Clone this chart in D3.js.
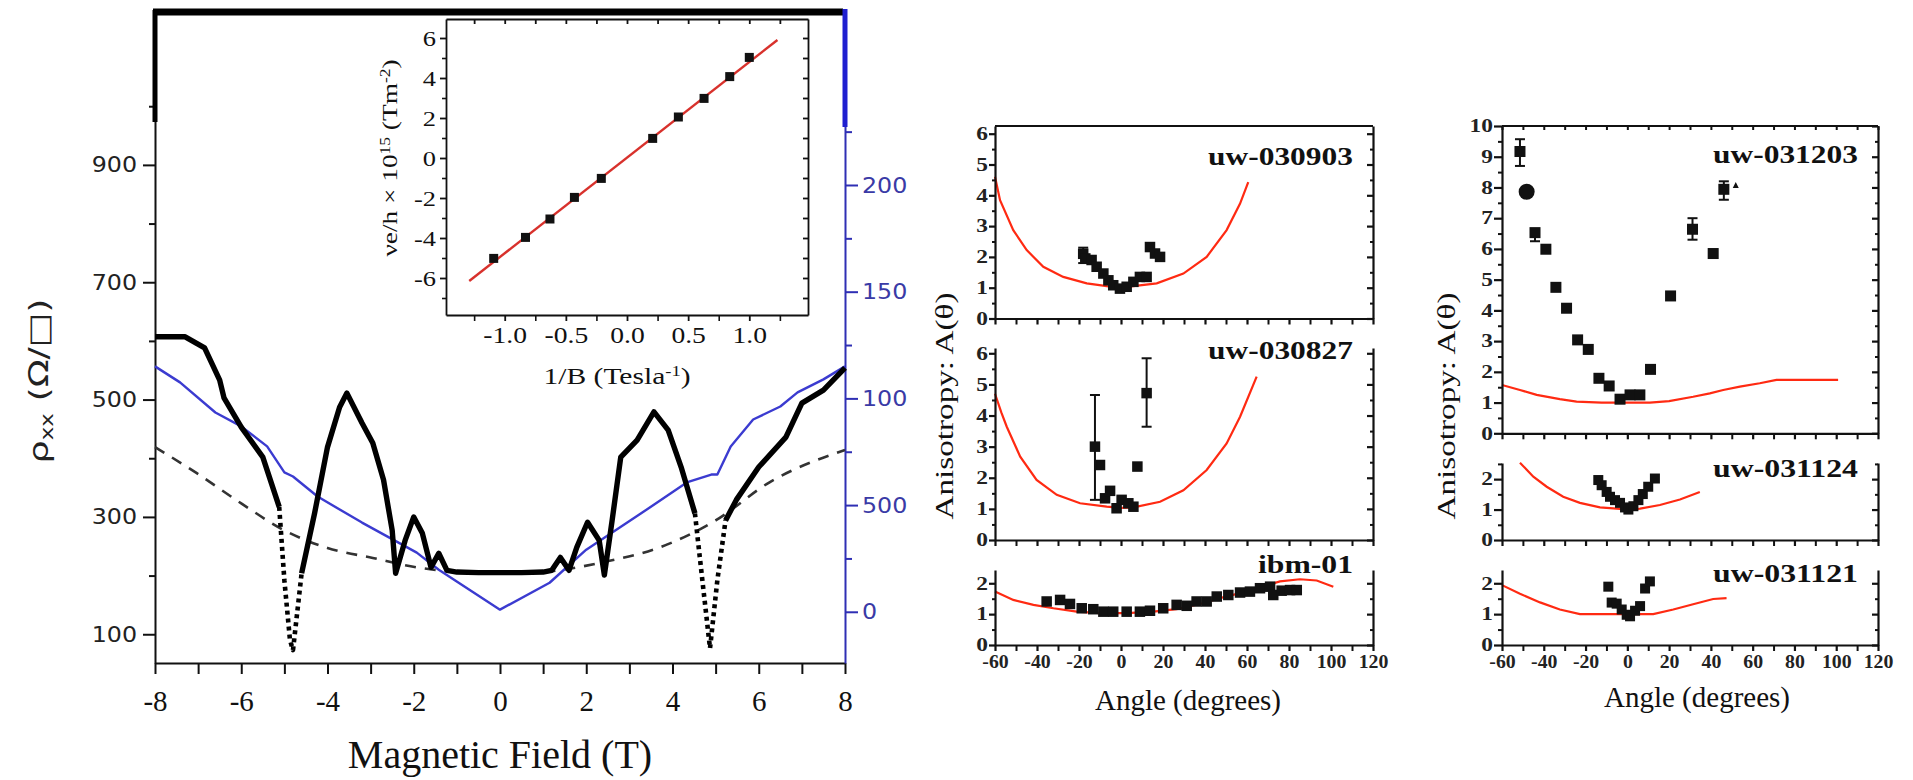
<!DOCTYPE html>
<html>
<head>
<meta charset="utf-8">
<script src="https://cdn.jsdelivr.net/npm/d3@7"></script>
<style>
  body { margin: 0; background: #fff; }
  svg { display: block; }
  text { font-family: "Liberation Serif", "Times New Roman", serif; }
</style>
</head>
<body>
<script>
// ---------------- main panel: rho_xx and companion trace vs field ----------------
const fieldTicks = [-8, -6, -4, -2, 0, 2, 4, 6, 8];
const fieldMinor = [-7, -5, -3, -1, 1, 3, 5, 7];
const rhoTicks = [100, 300, 500, 700, 900];
const rhoMinor = [200, 400, 600, 800, 1000];
const blueTicks = [0, 50, 100, 150, 200];
const blueTickLabels = ["0", "500", "100", "150", "200"];
const blueMinor = [25, 75, 125, 175, 225];

const rhoB = [-8, -7.3, -6.85, -6.5, -6.4, -6.0, -5.5, -5.12, -5.0, -4.87,
  -4.8, -4.6, -4.3, -4.0, -3.72, -3.55, -3.2, -2.95, -2.7, -2.5,
  -2.42, -2.2, -2.0, -1.8, -1.6, -1.42, -1.23, -1.0, -0.5, 0,
  0.5, 1.0, 1.2, 1.4, 1.6, 1.78, 2.03, 2.3, 2.42, 2.6,
  2.8, 3.18, 3.57, 3.9, 4.2, 4.52, 4.7, 4.87, 5.04, 5.23,
  5.48, 6.0, 6.63, 7.0, 7.5, 8.0];
const rhoVal = [607, 607, 588, 533, 503, 453, 402, 317, 192, 90,
  73, 204, 306, 419, 487, 511, 460, 426, 363, 277,
  204, 260, 300, 272, 214, 238, 209, 206, 205, 205,
  205, 206, 209, 231, 209, 248, 291, 260, 201, 294,
  402, 431, 479, 448, 385, 306, 187, 76, 192, 294,
  329, 385, 436, 494, 516, 554];
// field windows where the sweep is sparse (drawn dotted)
const rhoSparse = [[-5.15, -4.62], [4.55, 5.2]];

const blueB = [-8, -7.42, -6.6, -6.0, -5.4, -5.0, -4.8, -4.23, -3.2, -1.93, -1.42, 0,
  1.15, 2.0, 3.3, 4.33, 4.9, 5.04, 5.35, 5.87, 6.5, 6.9, 7.5, 8];
const blueVal = [115, 107.5, 93.4, 86.9, 77.5, 65.3, 63.4, 54, 41.8, 27.7, 19.7, 1,
  13.6, 29.1, 46.5, 60.6, 64.3, 64.3, 77.5, 90.1, 96.2, 102.8, 108.9, 115];

const fitB = [-8, -7.04, -6, -5, -4, -2.95, -1.93, -1, 0, 1, 2.4, 3.7, 5, 6.25, 8];
const fitRho = [419, 375, 323, 277, 247, 230, 214, 206, 203, 206, 223, 248, 294, 359, 414];

// ---------------- inset: nu e/h vs 1/B ----------------
const invB = [-1.09, -0.83, -0.63, -0.43, -0.21, 0.21, 0.42, 0.63, 0.84, 1.0];
const nuEh = [-5.02, -3.97, -3.05, -1.97, -1.02, 0.98, 2.05, 2.98, 4.07, 5.03];
const lineInvB = [-1.29, 1.23];
const lineNuEh = [-6.15, 5.9];
const invBTicks = [-1.0, -0.5, 0, 0.5, 1.0];
const invBMinor = [-1.25, -0.75, -0.25, 0.25, 0.75, 1.25];
const nuEhTicks = [-6, -4, -2, 0, 2, 4, 6];
const nuEhMinor = [-7, -5, -3, -1, 1, 3, 5];

// ---------------- anisotropy panels ----------------
const angleTicks = [-60, -40, -20, 0, 20, 40, 60, 80, 100, 120];

const s030903Angle = [-18, -17, -14, -11.6, -8.4, -6, -3.7, -0.5, 2.7, 5.9, 9, 12.2, 13.8, 16.2, 18.6];
const s030903A = [2.1, 1.95, 1.9, 1.68, 1.46, 1.24, 1.08, 0.97, 1.03, 1.19, 1.35, 1.35, 2.32, 2.11, 2.0];
const s030903ErrAngle = [-18];
const s030903ErrLo = [1.8];
const s030903ErrHi = [2.3];
const s030903FitAngle = [-60, -57.6, -51.3, -44.9, -37, -27.5, -16.3, -6.8, 0, 5.9, 17, 29.7, 40.8, 50.3, 56.7, 60.6];
const s030903FitA = [4.6, 3.84, 2.87, 2.22, 1.68, 1.35, 1.14, 1.05, 1.0, 1.05, 1.14, 1.46, 2.0, 2.87, 3.73, 4.43];

const s030827Angle = [-12.4, -10, -7.6, -5.2, -2.1, 0.3, 3.5, 5.9, 7.8, 12.2];
const s030827A = [3.0, 2.41, 1.34, 1.58, 1.02, 1.29, 1.18, 1.07, 2.36, 4.72];
const s030827ErrAngle = [-12.4, 12.2];
const s030827ErrLo = [1.29, 3.64];
const s030827ErrHi = [4.66, 5.84];
const s030827FitAngle = [-60, -57, -54.4, -48, -40.2, -30.6, -19.5, -6.8, 0, 6, 18.6, 29.7, 40.8, 50.3, 56.7, 64.6];
const s030827FitA = [4.7, 4.1, 3.64, 2.68, 1.93, 1.45, 1.18, 1.07, 1.03, 1.05, 1.23, 1.6, 2.25, 3.1, 3.96, 5.25];

const ibm01Angle = [-35.4, -29, -24.3, -18.7, -13.2, -8.4, -3.7, 2.7, 9, 13.8, 20.1, 26.5, 31.3,
  36, 40.8, 45.6, 51.1, 56.7, 61.4, 66.2, 71, 72.5, 76.5, 80.5, 83.7];
const ibm01A = [1.41, 1.46, 1.33, 1.19, 1.16, 1.08, 1.08, 1.08, 1.08, 1.11, 1.19, 1.3, 1.27,
  1.41, 1.41, 1.57, 1.62, 1.7, 1.73, 1.84, 1.89, 1.62, 1.76, 1.78, 1.78];
const ibm01FitAngle = [-60, -51.3, -41.7, -32.2, -21.1, -10, 2.7, 15.4, 26.5, 37.6, 47.1, 56.7, 66.2, 75.7, 85.2, 93.2, 101.1];
const ibm01FitA = [1.73, 1.46, 1.3, 1.19, 1.08, 1.03, 1.03, 1.08, 1.16, 1.33, 1.52, 1.68, 1.87, 2.06, 2.13, 2.09, 1.89];

const s031203Angle = [-51.4, -48.2, -44.2, -39, -34.2, -29.1, -23.8, -18.7, -13.6, -8.7, -3.5, 1.3, 6.0,
  11.1, 20.7, 31.2, 41.1, 46.2, 51.9];
const s031203A = [9.17, 7.86, 6.53, 5.99, 4.75, 4.07, 3.04, 2.73, 1.79, 1.54, 1.11, 1.25, 1.25,
  2.08, 4.47, 6.64, 5.85, 7.94, 8.08];
const s031203Marker = ["s", "o", "s", "s", "s", "s", "s", "s", "s", "s", "s", "s", "s",
  "s", "s", "s", "s", "s", "t"];
const s031203ErrAngle = [-51.4, -44.2, 31.2, 46.2];
const s031203ErrLo = [8.7, 6.25, 6.3, 7.6];
const s031203ErrHi = [9.57, 6.65, 7.0, 8.2];
const s031203FitAngle = [-60, -51.4, -43.4, -32.3, -24.3, -12.3, 0, 10.8, 20, 31.5, 39.5, 45.9, 53.9, 63.4, 71.4, 80, 100.9];
const s031203FitA = [1.57, 1.41, 1.25, 1.11, 1.03, 1.0, 1.0, 1.0, 1.05, 1.19, 1.3, 1.41, 1.52, 1.63, 1.74, 1.74, 1.74];

const s031124Angle = [-13.9, -12.3, -9.9, -8.3, -5.9, -3.5, -1.1, 0.5, 2.9, 5.3, 7.4, 10.0, 13.2];
const s031124A = [1.97, 1.8, 1.58, 1.42, 1.31, 1.22, 1.07, 1.0, 1.11, 1.31, 1.51, 1.75, 2.02];
const s031124FitAngle = [-51.4, -45, -38.6, -30.7, -22.7, -13.1, -3.5, 0, 6.1, 15.6, 25.2, 34.7];
const s031124FitA = [2.54, 2.08, 1.75, 1.42, 1.22, 1.07, 1.02, 1.0, 1.03, 1.15, 1.33, 1.58];

const s031121Angle = [-9.1, -7.5, -5.1, -2.7, -0.3, 1.3, 3.7, 6.1, 8.5, 10.8];
const s031121A = [1.89, 1.375, 1.34, 1.15, 0.98, 0.93, 1.11, 1.26, 1.83, 2.06];
const s031121FitAngle = [-60, -51.4, -41.8, -32.3, -22.7, -13.1, 0, 12.4, 22, 31.5, 41.1, 47.5];
const s031121FitA = [1.94, 1.66, 1.38, 1.15, 1.0, 1.0, 1.0, 1.0, 1.15, 1.32, 1.49, 1.52];

// ---------------------------------------------------------------------------
const svg = d3.select("body").append("svg").attr("width", 1913).attr("height", 780);

const zip = (a, b) => a.map((v, i) => [v, b[i]]);
const str = d => String(d);

// widen glyphs horizontally around a chosen origin
function widen(sel, k, origin) {
  sel.style("transform-box", "fill-box")
     .style("transform-origin", origin)
     .style("transform", `scaleX(${k})`);
}

// ----------------------------- main panel -----------------------------
const fx = d3.scaleLinear().domain([-8, 8]).range([155, 845]);
const fyL = d3.scaleLinear().domain([51, 1164]).range([663, 10]);
const fyR = d3.scaleLinear().domain([-24, 282]).range([663, 10]);

const main = svg.append("g");

function styleAxis(g, color, width) {
  g.select(".domain").attr("stroke", color).attr("stroke-width", width);
  g.selectAll(".tick line").attr("stroke", color).attr("stroke-width", width);
}

// bottom axis
const gxb = main.append("g").attr("transform", "translate(0,663)")
  .call(d3.axisBottom(fx).tickValues(fieldTicks).tickSize(11).tickSizeOuter(0).tickFormat(str));
styleAxis(gxb, "#111", 2);
gxb.selectAll("text").attr("y", 27).attr("fill", "#111")
  .style("font-size", "29px").style("font-family", "'Liberation Serif', serif");
const gxm = main.append("g").attr("transform", "translate(0,663)")
  .call(d3.axisBottom(fx).tickValues(fieldMinor).tickSize(11).tickFormat(""));
gxm.select(".domain").remove();
styleAxis(gxm, "#111", 2);

// left axis
const gyl = main.append("g").attr("transform", "translate(155,0)")
  .call(d3.axisLeft(fyL).tickValues(rhoTicks).tickSize(12).tickPadding(6).tickSizeOuter(0).tickFormat(str));
styleAxis(gyl, "#111", 2);
gyl.selectAll("text").attr("fill", "#222")
  .style("font-size", "22px").style("font-family", "'DejaVu Sans', sans-serif");
widen(gyl.selectAll("text"), 1.08, "right center");
const gylm = main.append("g").attr("transform", "translate(155,0)")
  .call(d3.axisLeft(fyL).tickValues(rhoMinor).tickSize(6).tickFormat(""));
gylm.select(".domain").remove();
styleAxis(gylm, "#111", 2);

// right (blue) axis
const blue = "#2f2fb4";
const gyr = main.append("g").attr("transform", "translate(845,0)")
  .call(d3.axisRight(fyR).tickValues(blueTicks).tickSize(13).tickPadding(4).tickSizeOuter(0)
    .tickFormat((d, i) => blueTickLabels[i]));
styleAxis(gyr, blue, 2);
gyr.selectAll("text").attr("fill", "#3a3aa6")
  .style("font-size", "22px").style("font-family", "'DejaVu Sans', sans-serif");
widen(gyr.selectAll("text"), 1.08, "left center");
const gyrm = main.append("g").attr("transform", "translate(845,0)")
  .call(d3.axisRight(fyR).tickValues(blueMinor).tickSize(7).tickFormat(""));
gyrm.select(".domain").remove();
styleAxis(gyrm, blue, 2);

// heavy frame segments along the top corners
main.append("line").attr("x1", 153).attr("x2", 843).attr("y1", 12).attr("y2", 12)
  .attr("stroke", "#000").attr("stroke-width", 7);
main.append("line").attr("x1", 155).attr("x2", 155).attr("y1", 10).attr("y2", 122)
  .attr("stroke", "#000").attr("stroke-width", 5);
main.append("line").attr("x1", 845).attr("x2", 845).attr("y1", 9).attr("y2", 127)
  .attr("stroke", "#1f1fd0").attr("stroke-width", 5);

// dashed reference curve
main.append("path").datum(zip(fitB, fitRho))
  .attr("d", d3.line().x(d => fx(d[0])).y(d => fyL(d[1])).curve(d3.curveMonotoneX))
  .attr("fill", "none").attr("stroke", "#333").attr("stroke-width", 2.6)
  .attr("stroke-dasharray", "11,9");

// blue trace
main.append("path").datum(zip(blueB, blueVal))
  .attr("d", d3.line().x(d => fx(d[0])).y(d => fyR(d[1])))
  .attr("fill", "none").attr("stroke", "#3b3bd0").attr("stroke-width", 2.4)
  .attr("stroke-linejoin", "round");

// black rho_xx trace, solid where dense, dotted where sparse
const rhoPts = zip(rhoB, rhoVal);
const runs = [];
for (let i = 0; i < rhoPts.length - 1; i++) {
  const mid = (rhoPts[i][0] + rhoPts[i + 1][0]) / 2;
  const sparse = rhoSparse.some(([a, b]) => mid > a && mid < b);
  if (!runs.length || runs[runs.length - 1].sparse !== sparse) runs.push({ sparse, pts: [rhoPts[i]] });
  runs[runs.length - 1].pts.push(rhoPts[i + 1]);
}
const rhoLine = d3.line().x(d => fx(d[0])).y(d => fyL(d[1]));
runs.forEach(r => {
  main.append("path").datum(r.pts).attr("d", rhoLine)
    .attr("fill", "none").attr("stroke", "#000")
    .attr("stroke-width", r.sparse ? 4.6 : 5.4)
    .attr("stroke-linejoin", "round")
    .attr("stroke-dasharray", r.sparse ? "4,4" : null);
});

// axis titles
main.append("text").attr("x", 500).attr("y", 768).attr("text-anchor", "middle")
  .style("font-size", "40px").attr("fill", "#111").text("Magnetic Field (T)");
const rt = main.append("text").attr("transform", "translate(48,381) rotate(-90)")
  .attr("text-anchor", "middle").attr("fill", "#222")
  .style("font-family", "'DejaVu Sans', sans-serif").style("font-size", "27px")
  .attr("textLength", 165).attr("lengthAdjust", "spacingAndGlyphs");
rt.append("tspan").text("ρ");
rt.append("tspan").attr("baseline-shift", "-30%").style("font-size", "17px").text("xx");
rt.append("tspan").text(" (Ω/□)");

// ----------------------------- inset -----------------------------
const ix = d3.scaleLinear().domain([-1.48, 1.48]).range([446, 808]);
const iy = d3.scaleLinear().domain([-7.85, 6.95]).range([315, 19]);
const ins = svg.append("g");
ins.append("rect").attr("x", 446).attr("y", 19).attr("width", 362).attr("height", 296)
  .attr("fill", "#fff");

const il = ins.append("g").attr("transform", "translate(446,0)")
  .call(d3.axisLeft(iy).tickValues(nuEhTicks).tickSize(6).tickPadding(4).tickSizeOuter(0).tickFormat(str));
styleAxis(il, "#111", 1.8);
il.selectAll("text").attr("fill", "#111").style("font-size", "22px");
widen(il.selectAll("text"), 1.2, "right center");
const ilm = ins.append("g").attr("transform", "translate(446,0)")
  .call(d3.axisLeft(iy).tickValues(nuEhMinor).tickSize(4).tickFormat(""));
ilm.select(".domain").remove();
styleAxis(ilm, "#111", 1.6);

const ir = ins.append("g").attr("transform", "translate(808,0)")
  .call(d3.axisLeft(iy).tickValues(nuEhTicks.concat(nuEhMinor)).tickSize(5).tickSizeOuter(0).tickFormat(""));
styleAxis(ir, "#111", 1.8);

const ib = ins.append("g").attr("transform", "translate(0,315)")
  .call(d3.axisBottom(ix).tickValues(invBTicks).tickSize(6).tickPadding(6).tickSizeOuter(0).tickFormat(d => d.toFixed(1)));
styleAxis(ib, "#111", 1.8);
ib.selectAll("text").attr("fill", "#111").style("font-size", "23px");
widen(ib.selectAll("text"), 1.2, "center");
const ibm = ins.append("g").attr("transform", "translate(0,315)")
  .call(d3.axisBottom(ix).tickValues(invBMinor).tickSize(6).tickFormat(""));
ibm.select(".domain").remove();
styleAxis(ibm, "#111", 1.6);

const it = ins.append("g").attr("transform", "translate(0,19)")
  .call(d3.axisBottom(ix).tickValues(invBTicks.concat(invBMinor)).tickSize(5).tickSizeOuter(0).tickFormat(""));
styleAxis(it, "#111", 1.8);

ins.append("path").datum(zip(lineInvB, lineNuEh))
  .attr("d", d3.line().x(d => ix(d[0])).y(d => iy(d[1])))
  .attr("stroke", "#d8312c").attr("stroke-width", 2.4).attr("fill", "none");
ins.selectAll("rect.pt").data(zip(invB, nuEh)).join("rect").attr("class", "pt")
  .attr("x", d => ix(d[0]) - 4.5).attr("y", d => iy(d[1]) - 4.5)
  .attr("width", 9).attr("height", 9).attr("fill", "#111");

const iyt = ins.append("text").attr("transform", "translate(397,158) rotate(-90)")
  .attr("text-anchor", "middle").attr("fill", "#111").style("font-size", "22px")
  .attr("textLength", 197).attr("lengthAdjust", "spacingAndGlyphs");
iyt.append("tspan").text("νe/h × 10");
iyt.append("tspan").attr("baseline-shift", "super").style("font-size", "14px").text("15");
iyt.append("tspan").text(" (Tm");
iyt.append("tspan").attr("baseline-shift", "super").style("font-size", "14px").text("-2");
iyt.append("tspan").text(")");

const ixt = ins.append("text").attr("x", 617).attr("y", 384).attr("text-anchor", "middle")
  .attr("fill", "#111").style("font-size", "24px")
  .attr("textLength", 147).attr("lengthAdjust", "spacingAndGlyphs");
ixt.append("tspan").text("1/B (Tesla");
ixt.append("tspan").attr("baseline-shift", "super").style("font-size", "15px").text("-1");
ixt.append("tspan").text(")");

// ----------------------------- anisotropy panels -----------------------------
const panels = [
  { name: "uw-030903", x0: 995, x1: 1373, y0: 126, y1: 318.5, yMax: 6.25, box: true, tick: 6,
    angle: s030903Angle, val: s030903A, errAngle: s030903ErrAngle, errLo: s030903ErrLo, errHi: s030903ErrHi,
    fitAngle: s030903FitAngle, fitVal: s030903FitA, size: 10.5, labelY: 165, labelLen: 145 },
  { name: "uw-030827", x0: 995, x1: 1373, y0: 348, y1: 540, yMax: 6.17, tick: 6,
    angle: s030827Angle, val: s030827A, errAngle: s030827ErrAngle, errLo: s030827ErrLo, errHi: s030827ErrHi,
    fitAngle: s030827FitAngle, fitVal: s030827FitA, size: 10.5, labelY: 359, labelLen: 145 },
  { name: "ibm-01", x0: 995, x1: 1373, y0: 570, y1: 645, yMax: 2.43, tick: 6, xLabels: true,
    angle: ibm01Angle, val: ibm01A, fitAngle: ibm01FitAngle, fitVal: ibm01FitA, size: 10.5,
    labelY: 573, labelLen: 95 },
  { name: "uw-031203", x0: 1502, x1: 1878, y0: 126, y1: 433.3, yMax: 10, box: true, topTicks: true, tick: 8,
    angle: s031203Angle, val: s031203A, marker: s031203Marker,
    errAngle: s031203ErrAngle, errLo: s031203ErrLo, errHi: s031203ErrHi,
    fitAngle: s031203FitAngle, fitVal: s031203FitA, size: 11, labelY: 163, labelLen: 145 },
  { name: "uw-031124", x0: 1502, x1: 1878, y0: 463, y1: 540, yMax: 2.53, tick: 8,
    angle: s031124Angle, val: s031124A, fitAngle: s031124FitAngle, fitVal: s031124FitA, size: 10,
    labelY: 477, labelLen: 145 },
  { name: "uw-031121", x0: 1502, x1: 1878, y0: 570, y1: 645, yMax: 2.43, tick: 8, xLabels: true,
    angle: s031121Angle, val: s031121A, fitAngle: s031121FitAngle, fitVal: s031121FitA, size: 10,
    labelY: 582, labelLen: 145 }
];

const angleMinor = d3.range(-50, 120, 20);
panels.forEach(p => {
  const g = svg.append("g");
  const x = d3.scaleLinear().domain([-60, 120]).range([p.x0, p.x1]);
  const y = d3.scaleLinear().domain([0, p.yMax]).range([p.y1, p.y0]);
  const major = d3.range(0, Math.floor(p.yMax) + 1);
  const minor = d3.range(0.5, p.yMax, 1);

  // fitted curve
  g.append("path").datum(zip(p.fitAngle, p.fitVal))
    .attr("d", d3.line().x(d => x(d[0])).y(d => y(d[1])))
    .attr("fill", "none").attr("stroke", "#ff2a12").attr("stroke-width", 2.2);

  // error bars
  if (p.errAngle) {
    p.errAngle.forEach((a, i) => {
      const cx = x(a), ylo = y(p.errLo[i]), yhi = y(p.errHi[i]);
      g.append("line").attr("x1", cx).attr("x2", cx).attr("y1", ylo).attr("y2", yhi)
        .attr("stroke", "#111").attr("stroke-width", 2);
      [ylo, yhi].forEach(yy => g.append("line").attr("x1", cx - 5).attr("x2", cx + 5)
        .attr("y1", yy).attr("y2", yy).attr("stroke", "#111").attr("stroke-width", 2));
    });
  }

  // measured points
  const pts = zip(p.angle, p.val);
  pts.forEach((d, i) => {
    const m = p.marker ? p.marker[i] : "s";
    const cx = x(d[0]), cy = y(d[1]);
    if (m === "o") {
      g.append("circle").attr("cx", cx).attr("cy", cy).attr("r", 8).attr("fill", "#111");
    } else if (m === "t") {
      g.append("path").attr("d", `M${cx - 3},${cy + 3}L${cx + 3},${cy + 3}L${cx},${cy - 3}Z`).attr("fill", "#111");
    } else {
      g.append("rect").attr("x", cx - p.size / 2).attr("y", cy - p.size / 2)
        .attr("width", p.size).attr("height", p.size).attr("fill", "#111");
    }
  });

  // left axis
  const gl = g.append("g").attr("transform", `translate(${p.x0},0)`)
    .call(d3.axisLeft(y).tickValues(major).tickSize(p.tick).tickPadding(1).tickSizeOuter(0).tickFormat(str));
  styleAxis(gl, "#111", 2.2);
  gl.selectAll("text").attr("fill", "#222").style("font-size", "18px").style("font-weight", "bold");
  widen(gl.selectAll("text"), 1.3, "right center");
  const glm = g.append("g").attr("transform", `translate(${p.x0},0)`)
    .call(d3.axisLeft(y).tickValues(minor).tickSize(p.tick / 2).tickFormat(""));
  glm.select(".domain").remove();
  styleAxis(glm, "#111", 2);

  // right axis with inward ticks
  const gr = g.append("g").attr("transform", `translate(${p.x1},0)`)
    .call(d3.axisLeft(y).tickValues(major).tickSize(6).tickSizeOuter(0).tickFormat(""));
  styleAxis(gr, "#111", 2.2);
  const grm = g.append("g").attr("transform", `translate(${p.x1},0)`)
    .call(d3.axisLeft(y).tickValues(minor).tickSize(3).tickFormat(""));
  grm.select(".domain").remove();
  styleAxis(grm, "#111", 2);

  // bottom axis
  const gb = g.append("g").attr("transform", `translate(0,${p.y1})`)
    .call(d3.axisBottom(x).tickValues(angleTicks).tickSize(6).tickPadding(4).tickSizeOuter(0)
      .tickFormat(p.xLabels ? str : ""));
  styleAxis(gb, "#111", 2.2);
  gb.selectAll("text").attr("fill", "#222").style("font-size", "18px").style("font-weight", "bold");
  widen(gb.selectAll("text"), 1.1, "center");
  const gbm = g.append("g").attr("transform", `translate(0,${p.y1})`)
    .call(d3.axisBottom(x).tickValues(angleMinor).tickSize(6).tickFormat(""));
  gbm.select(".domain").remove();
  styleAxis(gbm, "#111", 2);

  if (p.box) {
    g.append("line").attr("x1", p.x0).attr("x2", p.x1).attr("y1", p.y0).attr("y2", p.y0)
      .attr("stroke", "#111").attr("stroke-width", 2.2);
  }
  if (p.topTicks) {
    const gt = g.append("g").attr("transform", `translate(0,${p.y0})`)
      .call(d3.axisBottom(x).tickValues(angleTicks.concat(angleMinor)).tickSize(4).tickFormat(""));
    gt.select(".domain").remove();
    styleAxis(gt, "#111", 2);
  }

  g.append("text").attr("x", p.x1 - 20).attr("y", p.labelY).attr("text-anchor", "end")
    .attr("fill", "#111").style("font-size", "26px").style("font-weight", "bold")
    .attr("textLength", p.labelLen).attr("lengthAdjust", "spacingAndGlyphs").text(p.name);
});

// shared titles for the two anisotropy columns
[[945, 1188, 710], [1447, 1697, 707]].forEach(([ty, tx, tb]) => {
  svg.append("text").attr("transform", `translate(${ty + 8},406) rotate(-90)`)
    .attr("text-anchor", "middle").attr("fill", "#111").style("font-size", "26px")
    .attr("textLength", 227).attr("lengthAdjust", "spacingAndGlyphs")
    .text("Anisotropy: A(θ)");
  svg.append("text").attr("x", tx).attr("y", tb).attr("text-anchor", "middle")
    .attr("fill", "#111").style("font-size", "29px").text("Angle (degrees)");
});
</script>
</body>
</html>
